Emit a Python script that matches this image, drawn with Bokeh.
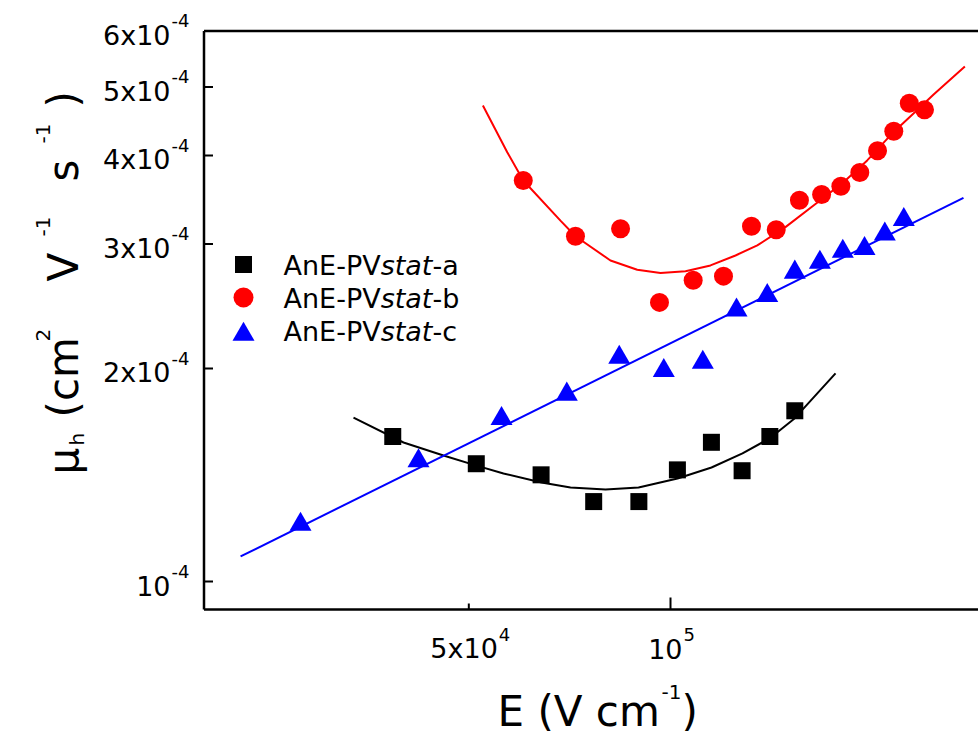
import math
from bokeh.plotting import figure
from bokeh.models import Label, Range1d
from bokeh.embed import file_html
from bokeh.resources import INLINE

# ---------------- data ----------------
a_E = [3.85e4, 5.13e4, 6.41e4, 7.68e4, 8.97e4, 1.024e5, 1.151e5, 1.279e5, 1.407e5, 1.533e5]
a_mu = [1.603e-4, 1.467e-4, 1.415e-4, 1.297e-4, 1.297e-4, 1.438e-4, 1.573e-4, 1.434e-4, 1.603e-4, 1.743e-4]
a_fit_E = [3.364e4, 3.995e4, 4.583e4, 5.134e4, 5.633e4, 6.419e4, 7.092e4, 7.998e4, 8.960e4,
           1.0244e5, 1.1513e5, 1.2807e5, 1.4055e5, 1.5316e5, 1.7632e5]
a_fit_mu = [1.705e-4, 1.572e-4, 1.507e-4, 1.458e-4, 1.421e-4, 1.380e-4, 1.358e-4, 1.349e-4, 1.358e-4,
            1.398e-4, 1.449e-4, 1.517e-4, 1.593e-4, 1.700e-4, 1.968e-4]

b_E = [6.029e4, 7.214e4, 8.423e4, 9.629e4, 1.0811e5, 1.1998e5, 1.3209e5, 1.4381e5, 1.5576e5,
       1.6809e5, 1.7959e5, 1.9167e5, 2.037e5, 2.154e5, 2.272e5, 2.394e5]
b_mu = [3.687e-4, 3.076e-4, 3.151e-4, 2.480e-4, 2.666e-4, 2.701e-4, 3.178e-4, 3.141e-4, 3.458e-4,
        3.523e-4, 3.620e-4, 3.784e-4, 4.061e-4, 4.329e-4, 4.742e-4, 4.640e-4]
b_fit_E = [5.248e4, 5.706e4, 6.029e4, 6.851e4, 7.214e4, 8.136e4, 8.919e4, 9.662e4, 1.0529e5, 1.1473e5,
           1.2503e5, 1.3475e5, 1.4844e5, 1.6349e5, 1.8121e5, 1.9661e5, 2.1513e5, 2.3051e5, 2.4699e5, 2.7502e5]
b_fit_mu = [4.707e-4, 4.043e-4, 3.687e-4, 3.236e-4, 3.076e-4, 2.842e-4, 2.758e-4, 2.729e-4, 2.745e-4, 2.797e-4,
            2.889e-4, 2.985e-4, 3.168e-4, 3.400e-4, 3.667e-4, 3.936e-4, 4.315e-4, 4.585e-4, 4.878e-4, 5.343e-4]

c_E = [2.804e4, 4.206e4, 5.595e4, 7.002e4, 8.385e4, 9.772e4, 1.1174e5, 1.2547e5, 1.3944e5, 1.533e5,
       1.6709e5, 1.8079e5, 1.948e5, 2.0887e5, 2.2295e5]
c_mu = [1.204e-4, 1.480e-4, 1.699e-4, 1.839e-4, 2.073e-4, 1.986e-4, 2.040e-4, 2.418e-4, 2.534e-4, 2.735e-4,
        2.825e-4, 2.927e-4, 2.953e-4, 3.097e-4, 3.245e-4]
c_fit_E = [2.282e4, 2.737e5]
c_fit_mu = [1.085e-4, 3.485e-4]

series_names = ["a", "b", "c"]
y_ticks = [1e-4, 2e-4, 3e-4, 4e-4, 5e-4, 6e-4]
y_tick_base = ["10", "2x10", "3x10", "4x10", "5x10", "6x10"]
y_tick_exp = ["-4", "-4", "-4", "-4", "-4", "-4"]
x_ticks = [5e4, 1e5]
x_tick_base = ["5x10", "10"]
x_tick_exp = ["4", "5"]
y_top = 6e-4

# ---------------- layout ----------------
# The canvas itself is the plotting frame; the axes box is drawn inside it.
W, H = 978, 735
PX_DEC_X, PX_X5 = 670.0, 670.0      # pixels per decade, pixel of 1e5
PX_DEC_Y, PY_M4 = 707.6, 581.0      # pixels per decade, pixel of 1e-4
BASE_CORR = 0.29                    # renderer baseline correction (fraction of font size)


def xd(px):
    return 10 ** (5 + (px - PX_X5) / PX_DEC_X)


def yd(py):
    return 10 ** (-4 + (PY_M4 - py) / PX_DEC_Y)


def xpx(v):
    return PX_X5 + (math.log10(v) - 5) * PX_DEC_X


def ypx(v):
    return PY_M4 - (math.log10(v) + 4) * PX_DEC_Y


X0, X1 = xd(0), xd(W)
Y0, Y1 = yd(H), yd(0)
AX_L = xd(203.5)      # left axis position
AX_B = yd(609)        # bottom axis position

FONT = "DejaVu Sans"

p = figure(width=W, height=H, x_axis_type="log", y_axis_type="log",
           x_range=Range1d(X0, X1), y_range=Range1d(Y0, Y1),
           x_axis_location=None, y_axis_location=None,
           output_backend="svg", toolbar_location=None,
           min_border_left=0, min_border_right=0, min_border_top=0, min_border_bottom=0)
p.outline_line_color = None
p.grid.visible = False
p.background_fill_color = "white"
p.border_fill_color = "white"

# ---------------- axes box and ticks ----------------
p.segment(x0=[AX_L, AX_L, AX_L], y0=[AX_B, AX_B, y_top], x1=[AX_L, X1, X1], y1=[y_top, AX_B, y_top],
          line_color="black", line_width=2.5)
p.ray(x=[AX_L] * len(y_ticks), y=y_ticks, length=9, angle=0, length_units="screen",
      line_color="black", line_width=2)
p.ray(x=x_ticks, y=[AX_B] * len(x_ticks), length=[6, 12], angle=math.pi / 2, length_units="screen",
      line_color="black", line_width=2)

# ---------------- data marks ----------------
p.line(a_fit_E, a_fit_mu, line_color="black", line_width=2)
p.line(b_fit_E, b_fit_mu, line_color="#ff0000", line_width=2)
p.line(c_fit_E, c_fit_mu, line_color="#0000ff", line_width=2)
p.scatter(a_E, a_mu, marker="square", size=17, fill_color="black", line_color=None)
p.scatter(b_E, b_mu, marker="circle", size=19, fill_color="#ff0000", line_color=None)
p.scatter(c_E, c_mu, marker="triangle", size=22, fill_color="#0000ff", line_color=None)

# ---------------- legend ----------------
leg_x = xd(243)
p.scatter([leg_x], [yd(264)], marker="square", size=17, fill_color="black", line_color=None)
p.scatter([leg_x], [yd(297)], marker="circle", size=20, fill_color="#ff0000", line_color=None)
p.scatter([leg_x], [yd(334)], marker="triangle", size=22, fill_color="#0000ff", line_color=None)
LF = 27


def lab(px, py, text, fs, align="left", style="normal", angle=0.0):
    corr = BASE_CORR * fs
    if angle == 0.0:
        py -= corr
    else:
        px -= corr
    p.add_layout(Label(x=xd(px), y=yd(py), text=text, text_font=FONT, text_font_size=f"{fs}px",
                       text_font_style=style, text_align=align, text_baseline="alphabetic",
                       text_color="black", angle=angle))


for i, s in enumerate(series_names):
    by = 272.7 + i * 33.3
    x0 = 283
    lab(x0, by, "AnE-PV", LF)
    x1 = x0 + 3.598 * LF
    lab(x1, by, "stat", LF, style="italic")
    x2 = x1 + 1.918 * LF
    lab(x2, by, "-" + s, LF)

# ---------------- tick labels ----------------
TF, EF = 27, 18
for t, b, e in zip(y_ticks, y_tick_base, y_tick_exp):
    py = ypx(t)
    lab(170, py + 12, b, TF, align="right")
    lab(171, py - 5, e, EF)
x_shift = [29, 12]
for t, b, e, sh in zip(x_ticks, x_tick_base, x_tick_exp, x_shift):
    px = xpx(t)
    lab(px + sh, 656, b, TF, align="right")
    lab(px + sh + 1, 639, e, EF)

# ---------------- axis titles ----------------
MF, SF = 42, 20
lab(497, 723, "E (V cm", MF)
lab(661, 697, "-1", SF)
lab(681, 723, ")", MF)

# rotated y title pieces: (text, kind, start page-y)
ytitle = [("μ", "m", 474), ("h", "b", 445), ("(cm", "m", 417), ("2", "p", 341), ("V", "m", 281),
          ("-1", "p", 236), ("s", "m", 181), ("-1", "p", 143), (")", "m", 107)]
base_x = {"m": 75, "p": 48, "b": 82}
fsize = {"m": MF, "p": SF, "b": SF}
for txt, kind, sy in ytitle:
    lab(base_x[kind], sy, txt, fsize[kind], angle=math.pi / 2)

open("out.html", "w").write(file_html(p, INLINE))
